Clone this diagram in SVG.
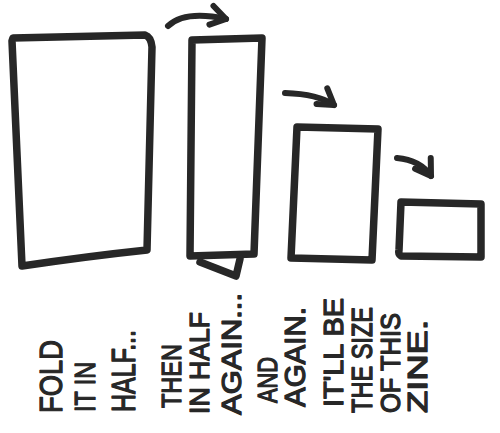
<svg xmlns="http://www.w3.org/2000/svg" width="500" height="433" viewBox="0 0 500 433">
<defs>
<style>
.s{fill:none;stroke:#272727;stroke-width:7.5;stroke-linejoin:round;stroke-linecap:round}
.a{fill:none;stroke:#272727;stroke-width:6;stroke-linecap:round;stroke-linejoin:round}
.t{font-family:"Liberation Sans","DejaVu Sans",sans-serif;fill:#272727;stroke:#272727;stroke-width:1.3;stroke-linejoin:round}
</style>
<marker id="head" markerUnits="userSpaceOnUse" orient="auto" refX="0" refY="0" markerWidth="40" markerHeight="40" overflow="visible">
<path d="M-15,-10 L0,0 L-15,9" fill="none" stroke="#272727" stroke-width="6" stroke-linecap="round" stroke-linejoin="round"/>
</marker>
</defs>
<rect width="500" height="433" fill="#ffffff"/>
<g id="sheet-full">
<path class="s" d="M13,38 L145,35 Q151,37 152,47 L147,250 Q90,256 22,266 L12,41 Z"/>
</g>
<g id="sheet-half">
<path class="s" d="M192,40 L262,38 L254,254 L190,256 Z"/>
<path class="s" d="M200,262 L236,276 L240,259" stroke-width="4"/>
</g>
<g id="sheet-quarter">
<path class="s" d="M297,127 L378,129 L372,260 L291,258 Z"/>
</g>
<g id="sheet-eighth">
<path class="s" d="M401,202 L481,204 L481,257 L401,256 Q398,254 399,250 Z"/>
</g>
<g id="connectors">
<path class="a" d="M168,26 Q185,10 226,19" marker-end="url(#head)"/>
<path class="a" d="M285,93 Q318,94 334,105" marker-end="url(#head)"/>
<path class="a" d="M397,158 Q420,160 431,176" marker-end="url(#head)"/>
</g>
<g id="captions" class="t">
<text transform="translate(62,413) rotate(-90)" font-size="32" textLength="73" lengthAdjust="spacingAndGlyphs">FOLD</text>
<text transform="translate(95,412) rotate(-90)" font-size="30" textLength="50" lengthAdjust="spacingAndGlyphs">IT IN</text>
<text transform="translate(135,412) rotate(-90)" font-size="33" textLength="82" lengthAdjust="spacingAndGlyphs">HALF...</text>
<text transform="translate(181,408) rotate(-90)" font-size="28" textLength="64" lengthAdjust="spacingAndGlyphs">THEN</text>
<text transform="translate(209,414) rotate(-90)" font-size="28" textLength="102" lengthAdjust="spacingAndGlyphs">IN HALF</text>
<text transform="translate(241,415) rotate(-90)" font-size="28" textLength="122" lengthAdjust="spacingAndGlyphs">AGAIN...</text>
<text transform="translate(277,403) rotate(-90)" font-size="28" textLength="46" lengthAdjust="spacingAndGlyphs">AND</text>
<text transform="translate(305,407) rotate(-90)" font-size="30" textLength="100" lengthAdjust="spacingAndGlyphs">AGAIN.</text>
<text transform="translate(343,407) rotate(-90)" font-size="28" textLength="109" lengthAdjust="spacingAndGlyphs">IT'LL BE</text>
<text transform="translate(372,413) rotate(-90)" font-size="30" textLength="106" lengthAdjust="spacingAndGlyphs">THE SIZE</text>
<text transform="translate(400,413) rotate(-90)" font-size="28" textLength="100" lengthAdjust="spacingAndGlyphs">OF THIS</text>
<text transform="translate(427,413) rotate(-90)" font-size="28" textLength="93" lengthAdjust="spacingAndGlyphs">ZINE.</text>
</g>
</svg>
